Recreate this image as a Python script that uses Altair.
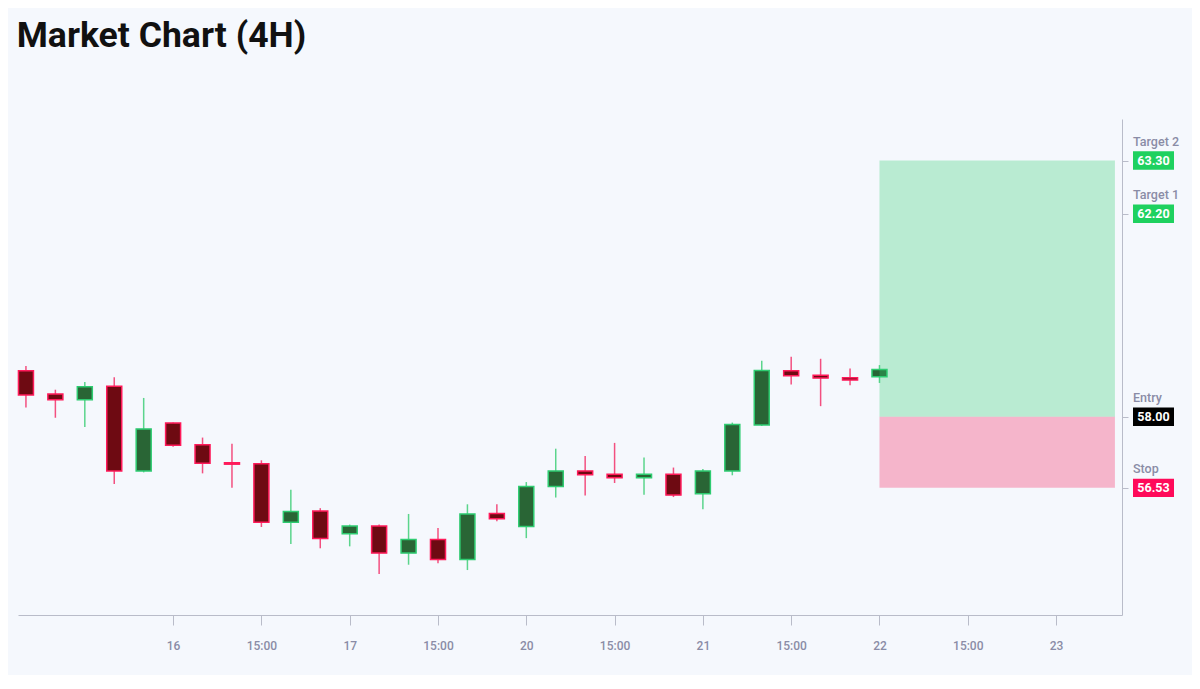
import altair as alt
import pandas as pd

# ---- candle data (4H bars) ----
opens  = [58.95, 58.47, 58.35, 58.63, 56.88, 57.87, 57.42, 57.05, 57.03, 55.82,
          56.05, 55.58, 55.74, 55.18, 55.46, 55.05, 56.00, 55.73, 56.56, 56.88,
          56.81, 56.74, 56.81, 56.41, 56.88, 57.83, 58.95, 58.86, 58.81, 58.83]
highs  = [59.05, 58.56, 58.72, 58.82, 58.39, 57.88, 57.57, 57.44, 57.10, 56.49,
          56.11, 55.77, 55.77, 55.99, 55.70, 56.19, 56.19, 56.65, 57.34, 57.19,
          57.46, 57.16, 56.95, 56.92, 57.88, 59.16, 59.24, 59.20, 59.00, 59.07]
lows   = [58.19, 57.98, 57.79, 56.61, 56.85, 57.38, 56.83, 56.53, 55.72, 55.37,
          55.28, 55.32, 54.75, 54.94, 54.97, 54.83, 55.84, 55.49, 56.33, 56.37,
          56.63, 56.39, 56.34, 56.09, 56.79, 57.81, 58.67, 58.22, 58.65, 58.70]
closes = [58.45, 58.35, 58.62, 56.88, 57.75, 57.41, 57.04, 57.02, 55.82, 56.04,
          55.48, 55.74, 55.18, 55.46, 55.05, 55.99, 55.89, 56.56, 56.88, 56.80,
          56.74, 56.81, 56.38, 56.88, 57.84, 58.96, 58.85, 58.80, 58.76, 58.98]

# ---- x-axis tick labels (bar index -> label) ----
tick_positions = [5, 8, 11, 14, 17, 20, 23, 26, 29, 32, 35]
tick_labels = ["16", "15:00", "17", "15:00", "20", "15:00", "21", "15:00", "22", "15:00", "23"]

# ---- trade levels ----
level_names = ["Target 2", "Target 1", "Entry", "Stop"]
level_prices = [63.30, 62.20, 58.00, 56.53]
entry_price = 58.00
stop_price = 56.53
target_price = 63.30
zone_start = 29
zone_end = 37

n = len(opens)
candles = pd.DataFrame({
    "idx": list(range(n)),
    "open": opens, "high": highs, "low": lows, "close": closes,
})
candles["dir"] = ["up" if c >= o else "down" for o, c in zip(opens, closes)]

zones = pd.DataFrame({
    "kind": ["profit", "loss"],
    "x0": [zone_start, zone_start],
    "x1": [zone_end, zone_end],
    "lo": [entry_price, stop_price],
    "hi": [target_price, entry_price],
})
levels = pd.DataFrame({"name": level_names, "price": level_prices})

W, H = 1104, 496
xdom = [-0.27, 37.24]
ydom = [53.90, 64.16]

label_map = ", ".join(f"'{p}': '{l}'" for p, l in zip(tick_positions, tick_labels))
label_expr = "{" + label_map + "}[datum.value + '']"

x_axis = alt.Axis(values=tick_positions, labelExpr=label_expr, title=None, grid=False,
                  tickSize=10, tickColor="#b9bcc9", domainColor="#b9bcc9",
                  labelColor="#8a8ca6", labelFontSize=12, labelFont="Roboto",
                  labelFontWeight=500, labelPadding=15)
y_axis = alt.Axis(orient="right", values=level_prices, labels=False, title=None,
                  grid=False, tickSize=6, tickColor="#b9bcc9", domainColor="#b9bcc9")

xs = alt.Scale(domain=xdom, nice=False, zero=False, padding=0)
ys = alt.Scale(domain=ydom, nice=False, zero=False, padding=0)

dir_dom = ["up", "down"]

wicks = alt.Chart(candles).mark_rule(strokeWidth=1.5, opacity=0.85).encode(
    x=alt.X("idx:Q", scale=xs, axis=x_axis),
    y=alt.Y("low:Q", scale=ys, axis=y_axis),
    y2="high:Q",
    color=alt.Color("dir:N", scale=alt.Scale(domain=dir_dom, range=["#3fcf78", "#f2326a"]), legend=None),
)

bodies = alt.Chart(candles).mark_bar(size=15, strokeWidth=1.5).encode(
    x=alt.X("idx:Q", scale=xs, axis=x_axis),
    y=alt.Y("open:Q", scale=ys, axis=y_axis),
    y2="close:Q",
    fill=alt.Fill("dir:N", scale=alt.Scale(domain=dir_dom, range=["#296535", "#6e0a12"]), legend=None),
    stroke=alt.Stroke("dir:N", scale=alt.Scale(domain=dir_dom, range=["#2ecc71", "#ff1a5a"]), legend=None),
)

zone_layer = alt.Chart(zones).mark_rect(opacity=0.3).encode(
    x=alt.X("x0:Q", scale=xs, axis=x_axis),
    x2="x1:Q",
    y=alt.Y("lo:Q", scale=ys, axis=y_axis),
    y2="hi:Q",
    color=alt.Color("kind:N", scale=alt.Scale(domain=["profit", "loss"], range=["#2ecc71", "#f5195a"]), legend=None),
)

box_shape = "M-1,-0.45L1,-0.45L1,0.45L-1,0.45Z"
boxes = alt.Chart(levels).mark_point(shape=box_shape, filled=True, opacity=1, size=1681, strokeWidth=0).encode(
    x=alt.value(W + 31.5),
    y=alt.Y("price:Q", scale=ys, axis=y_axis),
    fill=alt.Fill("name:N", scale=alt.Scale(domain=level_names,
                                            range=["#1ed15f", "#1ed15f", "#000000", "#ff0a5a"]), legend=None),
)

box_text = alt.Chart(levels).mark_text(color="white", fontSize=12.5, font="Roboto", fontWeight="bold",
                                       align="center", baseline="middle").encode(
    x=alt.value(W + 31.5),
    y=alt.Y("price:Q", scale=ys, axis=y_axis),
    text=alt.Text("price:Q", format=".2f"),
)

name_text = alt.Chart(levels).mark_text(color="#8a8ca6", fontSize=12.5, font="Roboto", fontWeight=500,
                                        align="left", baseline="alphabetic", dy=-15).encode(
    x=alt.value(W + 11),
    y=alt.Y("price:Q", scale=ys, axis=y_axis),
    text="name:N",
)

chart = alt.layer(wicks, bodies, zone_layer, boxes, box_text, name_text).resolve_scale(
    color="independent", fill="independent", stroke="independent"
).properties(
    width=W, height=H,
    title=alt.TitleParams("Market Chart (4H)", anchor="start", fontSize=35.6, font="Roboto",
                          fontWeight="bold", color="#111111", baseline="alphabetic", offset=36, dx=-1),
    background="#f5f8fd",
    padding={"left": 10, "top": 111, "right": 70, "bottom": 60},
    autosize=alt.AutoSizeParams(type="none"),
).configure_view(stroke=None)

chart.save("out.html", embed_options={"renderer": "svg", "actions": False})
